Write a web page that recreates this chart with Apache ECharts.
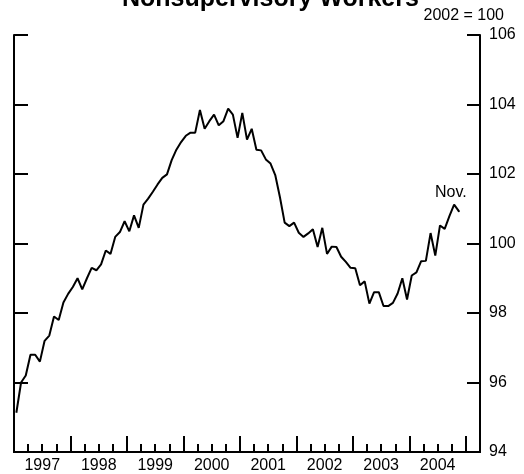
<!DOCTYPE html>
<html>
<head>
<meta charset="utf-8">
<script src="https://cdn.jsdelivr.net/npm/echarts@6/dist/echarts.min.js"></script>
<style>
    html, body { margin: 0; padding: 0; background: #fff; }
    #chart { width: 524px; height: 474px; }
</style>
</head>
<body>
<div id="chart"></div>
<script>
const title = 'Nonsupervisory Workers';
const unitNote = '2002 = 100';
const lastLabel = 'Nov.';
const yearLabels = ['1997', '1998', '1999', '2000', '2001', '2002', '2003', '2004'];
// monthly index, Jan 1997 .. Nov 2004
const index1997 = [95.13, 96.0, 96.2, 96.8, 96.8, 96.6, 97.2, 97.35, 97.9, 97.8, 98.3, 98.55];
const index1998 = [98.75, 99.0, 98.68, 99.0, 99.3, 99.23, 99.4, 99.8, 99.7, 100.19, 100.33, 100.64];
const index1999 = [100.35, 100.81, 100.45, 101.12, 101.29, 101.49, 101.7, 101.89, 101.99, 102.4, 102.7, 102.92];
const index2000 = [103.1, 103.19, 103.19, 103.84, 103.3, 103.52, 103.71, 103.4, 103.52, 103.88, 103.71, 103.04];
const index2001 = [103.76, 102.99, 103.3, 102.7, 102.68, 102.42, 102.3, 101.97, 101.33, 100.6, 100.5, 100.6];
const index2002 = [100.31, 100.19, 100.29, 100.41, 99.9, 100.45, 99.7, 99.91, 99.9, 99.62, 99.47, 99.3];
const index2003 = [99.29, 98.8, 98.91, 98.27, 98.6, 98.6, 98.2, 98.2, 98.29, 98.56, 99.0, 98.39];
const index2004 = [99.08, 99.17, 99.49, 99.5, 100.3, 99.65, 100.52, 100.42, 100.79, 101.12, 100.93];

const values = [].concat(index1997, index1998, index1999, index2000, index2001, index2002, index2003, index2004);
// points sit mid-month on a month axis
const seriesData = values.map((v, i) => {
    if (i === values.length - 1) {
        return {
            value: [i + 0.5, v],
            symbol: 'circle',
            symbolSize: 2,
            itemStyle: { color: '#000' },
            label: { show: true, formatter: lastLabel, position: 'top', offset: [-8, -5] }
        };
    }
    return [i + 0.5, v];
});

const font = 'Liberation Sans, Arial, Helvetica, sans-serif';
const black = '#000';

const chart = echarts.init(document.getElementById('chart'), null, { renderer: 'canvas' });
chart.setOption({
    animation: false,
    backgroundColor: '#fff',
    textStyle: { fontFamily: font, color: black },
    grid: { left: 14, right: 44, top: 35, bottom: 22, containLabel: false },
    graphic: [
        {
            type: 'text', left: 122, top: -13,
            style: { text: title, font: 'bold 25px ' + font, fill: black }
        },
        {
            type: 'text', right: 20, top: 8,
            style: { text: unitNote, font: '16px ' + font, fill: black }
        }
    ],
    xAxis: [
        {
            type: 'value', min: 0, max: 99, interval: 12,
            position: 'bottom',
            axisLine: { onZero: false, lineStyle: { color: black, width: 2 } },
            axisTick: { inside: true, length: 16, lineStyle: { color: black, width: 2 } },
            axisLabel: { show: false },
            splitLine: { show: false }
        },
        {
            type: 'value', min: 0, max: 99, interval: 3,
            position: 'bottom',
            axisLine: { onZero: false, lineStyle: { color: black, width: 2 } },
            axisTick: { inside: true, length: 8, lineStyle: { color: black, width: 2 } },
            axisLabel: {
                color: black, fontSize: 16, margin: 6,
                formatter: v => (v % 12 === 6 ? yearLabels[(v - 6) / 12] || '' : '')
            },
            splitLine: { show: false }
        }
    ],
    yAxis: [
        {
            type: 'value', min: 94, max: 106, interval: 2,
            position: 'left',
            axisLine: { show: true, onZero: false, lineStyle: { color: black, width: 2 } },
            axisTick: { show: true, inside: true, length: 14, lineStyle: { color: black, width: 2 } },
            axisLabel: { show: false },
            splitLine: { show: false }
        },
        {
            type: 'value', min: 94, max: 106, interval: 2,
            position: 'right',
            axisLine: { show: true, onZero: false, lineStyle: { color: black, width: 2 } },
            axisTick: { show: true, inside: true, length: 13, lineStyle: { color: black, width: 2 } },
            axisLabel: { color: black, fontSize: 16, margin: 9 },
            splitLine: { show: false }
        }
    ],
    series: [
        {
            type: 'line',
            xAxisIndex: 0,
            yAxisIndex: 1,
            data: seriesData,
            symbol: 'none',
            lineStyle: { color: black, width: 2 },
            label: { color: black, fontSize: 16, fontFamily: font }
        }
    ]
});
</script>
</body>
</html>
